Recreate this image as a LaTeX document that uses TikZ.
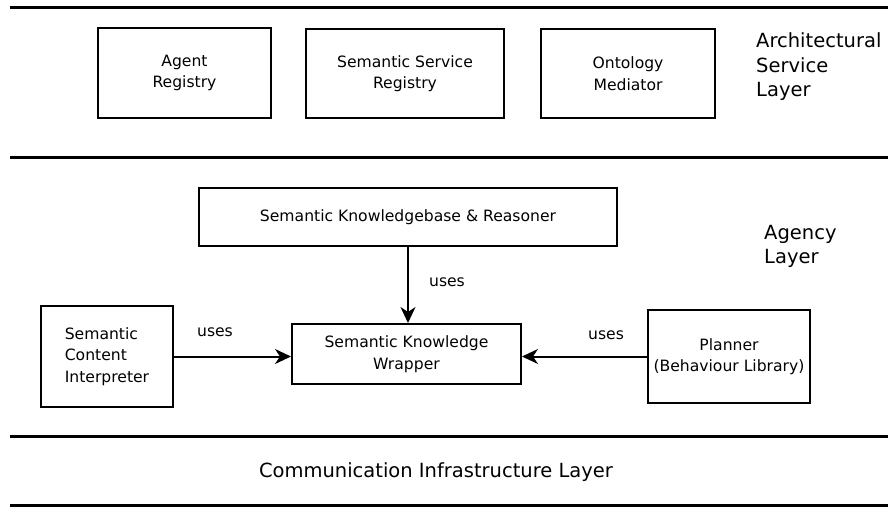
\documentclass[tikz,border=0pt]{standalone}
\usepackage{fontspec}
\setmainfont{DejaVu Sans}
\usetikzlibrary{arrows.meta}

\begin{document}
\begin{tikzpicture}[
        x=1pt, y=-1pt,
        box/.style={draw, line width=2pt, inner sep=0pt, align=center,
                font=\fontsize{15.6}{21.5}\selectfont},
        layer/.style={inner sep=0pt, align=left, font=\fontsize{19.5}{24.5}\selectfont},
        sep/.style={line width=3pt},
        uses/.style={-{Stealth[length=16pt,width=15pt,inset=5pt]}, line width=2pt},
        lbl/.style={inner sep=0pt, font=\fontsize{15.6}{18}\selectfont}
    ]
    \useasboundingbox (0,0) rectangle (888,508);

    % layer separators
    \draw[sep] (10,8) -- (888,8);
    \draw[sep] (10,157) -- (888,157);
    \draw[sep] (10,436) -- (888,436);
    \draw[sep] (10,505) -- (888,505);

    % architectural service layer
    \node[box, minimum width=173pt, minimum height=90pt] (AR) at (184.5,73) {Agent\\Registry};
    \node[box, minimum width=198pt, minimum height=89pt] (SSR) at (405,73.5) {Semantic Service\\Registry};
    \node[box, minimum width=174pt, minimum height=89pt] (OM) at (628,73.5) {Ontology\\Mediator};
    \node[layer, anchor=west] (ASL) at (756,67) {Architectural\\Service\\Layer};

    % agency layer
    \node[box, minimum width=418pt, minimum height=58pt] (KB) at (408,217) {Semantic Knowledgebase \& Reasoner};
    \node[box, minimum width=229pt, minimum height=60pt] (W) at (406.5,354) {Semantic Knowledge\\Wrapper};
    \node[box, minimum width=132pt, minimum height=101pt, align=left] (SCI) at (107,356.5) {Semantic\\Content\\Interpreter};
    \node[box, minimum width=162pt, minimum height=93pt] (P) at (729,356.5) {Planner\\(Behaviour Library)};
    \node[layer, anchor=west] (AL) at (764,246.5) {Agency\\Layer};

    \draw[uses] (KB.south) -- (KB.south |- W.north);
    \draw[uses] (SCI.east) -- (SCI.east -| W.west);
    \draw[uses] (P.west) -- (P.west -| W.east);

    \node[lbl] (u1) at (447,282) {uses};
    \node[lbl] (u2) at (215,332) {uses};
    \node[lbl] (u3) at (606,335) {uses};

    % communication layer
    \node[layer] (CIL) at (436,472) {Communication Infrastructure Layer};
\end{tikzpicture}
\end{document}
